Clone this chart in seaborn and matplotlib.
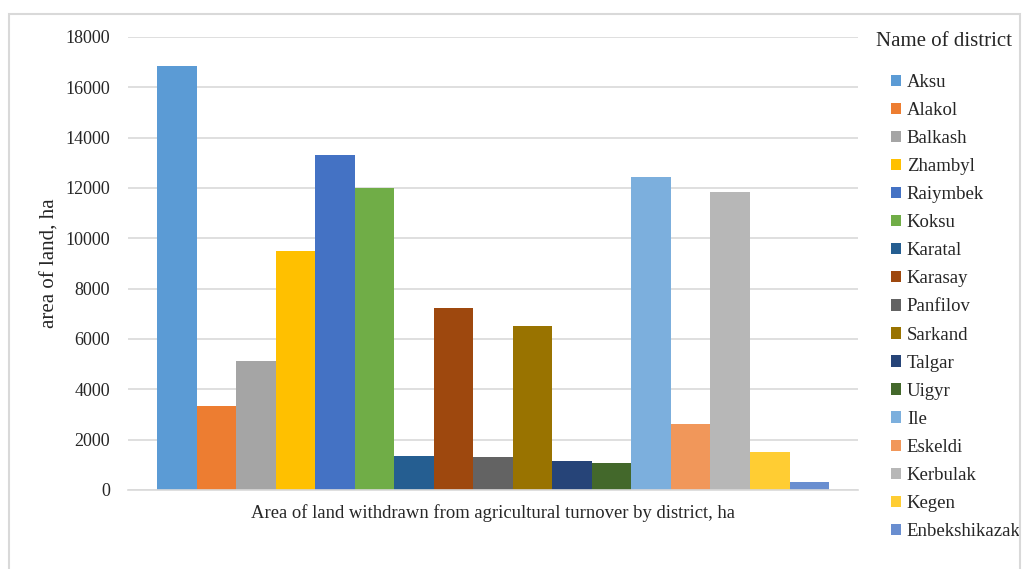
import matplotlib
matplotlib.use("Agg")
import matplotlib.pyplot as plt
from matplotlib.patches import Rectangle
import pandas as pd
import seaborn as sns

districts = ["Aksu", "Alakol", "Balkash", "Zhambyl", "Raiymbek", "Koksu",
             "Karatal", "Karasay", "Panfilov", "Sarkand", "Talgar", "Uigyr",
             "Ile", "Eskeldi", "Kerbulak", "Kegen", "Enbekshikazak"]
area_ha = [16830, 3340, 5130, 9475, 13310, 12010, 1365, 7210, 1325, 6510,
           1140, 1060, 12430, 2625, 11850, 1525, 305]
colors = ["#5B9BD5", "#ED7D31", "#A5A5A5", "#FFC000", "#4472C4", "#70AD47",
          "#255E91", "#9E480E", "#636363", "#997300", "#264478", "#43682B",
          "#7CAFDD", "#F1975A", "#B7B7B7", "#FFCD33", "#698ED0"]
group = "Area of land withdrawn from agricultural turnover by district, ha"

df = pd.DataFrame({"group": [group] * len(districts),
                   "district": districts,
                   "area": area_ha})

sns.set_theme(style="white")
plt.rcParams["font.family"] = ["Liberation Serif", "DejaVu Serif"]

fig = plt.figure(figsize=(10.23, 5.69), dpi=100)
ax = fig.add_axes([0.125, 0.139, 0.714, 0.796])

sns.barplot(data=df, x="group", y="area", hue="district",
            hue_order=districts, palette=dict(zip(districts, colors)),
            width=0.92, saturation=1, linewidth=0, ax=ax)

ax.set_ylim(0, 18000)
ax.set_yticks(range(0, 18001, 2000))
ax.tick_params(axis="y", labelsize=13, length=0, pad=13, colors="#262626")
ax.set_xticks([])
ax.set_xlabel(group, fontsize=13.4, color="#262626", labelpad=10)
ax.set_ylabel("area of land, ha", fontsize=15, color="#262626", labelpad=4)
ax.yaxis.grid(True, color="#D9D9D9", linewidth=1.2)
ax.set_axisbelow(True)
for side in ("top", "right", "left"):
    ax.spines[side].set_visible(False)
ax.spines["bottom"].set_color("#D9D9D9")
ax.spines["bottom"].set_linewidth(1.2)

handles, labels = ax.get_legend_handles_labels()
ax.legend(handles, labels,
          loc="upper left", bbox_to_anchor=(891 / 1023, 1 - 74 / 569),
          bbox_transform=fig.transFigure, frameon=False,
          fontsize=13.5, handlelength=0.55, handleheight=0.55,
          handletextpad=0.3, labelspacing=0.59, borderpad=0, borderaxespad=0)
fig.text(944 / 1023, 1 - 41 / 569, "Name of district", fontsize=15,
         color="#262626", ha="center", va="center")

# light outer frame around the chart
fig.patches.append(Rectangle((9 / 1023, -0.01), 1011 / 1023, 1 - 14 / 569 + 0.01,
                             transform=fig.transFigure, fill=False,
                             edgecolor="#D9D9D9", linewidth=1.5))

fig.savefig("out.png", dpi=100)
